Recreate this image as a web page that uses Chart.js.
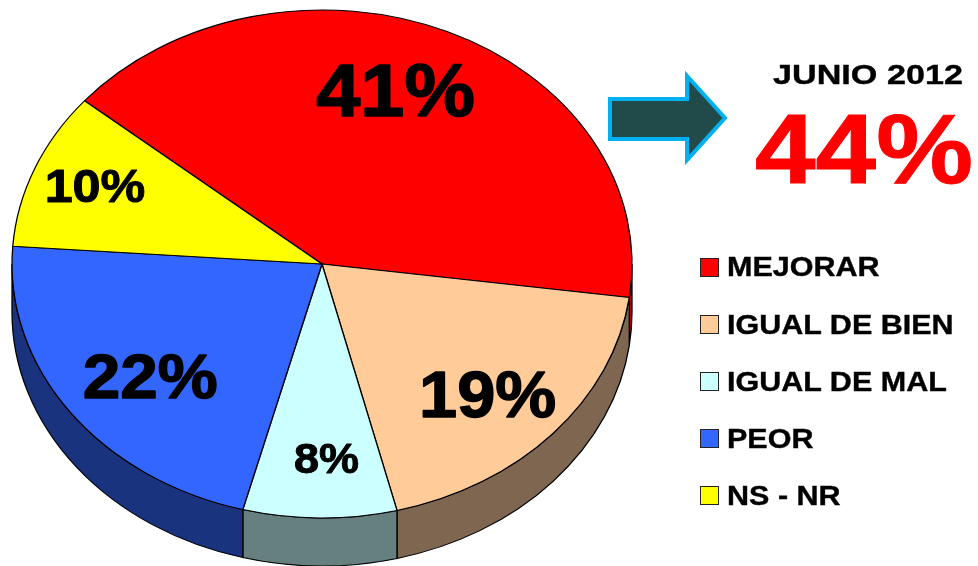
<!DOCTYPE html>
<html lang="es">
<head>
    <meta charset="UTF-8">
    <title>Junio 2012</title>
    <script src="https://cdn.jsdelivr.net/npm/chart.js"></script>
    <style>
        html, body { margin: 0; padding: 0; background: #fff; }
        body { width: 978px; height: 566px; position: relative; overflow: hidden;
               font-family: "Liberation Sans", Arial, sans-serif; font-weight: bold; color: #000; }
        #pie, #arrow { position: absolute; left: 0; top: 0; }
        .txt { position: absolute; line-height: 1; white-space: nowrap; transform-origin: 0 0; }
        #month { left: 773px; top: 61px; font-size: 28px; transform: scaleX(1.22); -webkit-text-stroke: 0.4px #000; }
        #total { left: 755px; top: 99px; font-size: 99px; color: #ff0000; transform: scaleX(1.1); -webkit-text-stroke: 1px #ff0000; }
        .key { position: absolute; left: 700px; width: 17px; height: 17px; border: 1px solid #222; }
        .keytxt { position: absolute; left: 727px; font-size: 28px; line-height: 1; white-space: nowrap;
                  transform: scaleX(1.09); transform-origin: 0 0; -webkit-text-stroke: 0.4px #000; }
    </style>
</head>
<body>
    <canvas id="pie" width="978" height="566"></canvas>
    <svg id="arrow" width="978" height="566">
        <polygon points="610,99 687,99 687,76 725,118 687,160 687,139 610,139"
                 fill="#214a4a" stroke="#00b0f0" stroke-width="4"/>
    </svg>
    <div id="month" class="txt"></div>
    <div id="total" class="txt"></div>
    <div id="legend"></div>

    <script>
        // datos
        const categories = ['MEJORAR', 'IGUAL DE BIEN', 'IGUAL DE MAL', 'PEOR', 'NS - NR'];
        const values = [41, 19, 8, 22, 10];
        const headerLabel = 'JUNIO 2012';
        const headerValue = 44;

        // estilos
        const topColors = ['#ff0000', '#ffcc99', '#ccffff', '#3366ff', '#ffff00'];
        const sideColors = ['#b00000', '#7f6650', '#668080', '#1a337f', '#808000'];
        const labelSizes = [74, 64, 42, 63, 47];
        const labelReach = [0.725, 0.74, 0.764, 0.706, 0.795];
        const labelTurn = [-4.7, 2, -1.5, -2.7, 0.9];   // grados

        const DEPTH = 48;
        const SQUASH = 254 / 310;

        // pastel inclinado con borde 3D
        const tilt3d = {
            id: 'tilt3d',
            beforeDatasetsDraw(chart) {
                const ctx = chart.ctx;
                const arcs = chart.getDatasetMeta(0).data;
                const cx = arcs[0].x, cy = arcs[0].y;
                ctx.save();
                ctx.translate(cx, cy);
                ctx.scale(1, SQUASH);
                ctx.translate(-cx, -cy);
                const d = DEPTH / SQUASH;
                arcs.forEach((arc, i) => {
                    const { startAngle, endAngle, outerRadius: r } = arc.getProps(['startAngle', 'endAngle', 'outerRadius']);
                    for (let k = -1; k <= 1; k++) {
                        const lo = Math.max(startAngle, 2 * Math.PI * k);
                        const hi = Math.min(endAngle, 2 * Math.PI * k + Math.PI);
                        if (hi <= lo) continue;
                        ctx.beginPath();
                        ctx.arc(cx, cy, r, lo, hi);
                        ctx.arc(cx, cy + d, r, hi, lo, true);
                        ctx.closePath();
                        ctx.fillStyle = sideColors[i];
                        ctx.fill();
                        ctx.lineWidth = 1.3;
                        ctx.strokeStyle = '#000';
                        ctx.stroke();
                    }
                });
            },
            afterDatasetsDraw(chart) {
                const ctx = chart.ctx;
                ctx.restore();
                const arcs = chart.getDatasetMeta(0).data;
                arcs.forEach((arc, i) => {
                    const { x, y, startAngle, endAngle, outerRadius: r } =
                        arc.getProps(['x', 'y', 'startAngle', 'endAngle', 'outerRadius']);
                    const mid = (startAngle + endAngle) / 2 + labelTurn[i] * Math.PI / 180;
                    const px = x + Math.cos(mid) * r * labelReach[i];
                    const py = y + Math.sin(mid) * r * labelReach[i] * SQUASH;
                    const size = labelSizes[i];
                    ctx.save();
                    ctx.font = `bold ${size}px "Liberation Sans", Arial, sans-serif`;
                    ctx.fillStyle = '#000';
                    ctx.strokeStyle = '#000';
                    ctx.lineWidth = size / 45;
                    ctx.lineJoin = 'round';
                    ctx.textAlign = 'center';
                    ctx.textBaseline = 'alphabetic';
                    ctx.translate(px, py + size * 0.358);
                    ctx.scale(1.07, 1);
                    ctx.fillText(values[i] + '%', 0, 0);
                    ctx.strokeText(values[i] + '%', 0, 0);
                    ctx.restore();
                });
            }
        };

        new Chart(document.getElementById('pie'), {
            type: 'pie',
            data: {
                labels: categories,
                datasets: [{
                    data: values,
                    backgroundColor: topColors,
                    borderColor: '#000',
                    borderWidth: 1.3,
                    clip: false
                }]
            },
            options: {
                responsive: false,
                animation: false,
                events: [],
                radius: 310,
                rotation: -50,
                layout: { padding: { left: 12, right: 346, top: 0, bottom: 38 } },
                plugins: {
                    legend: { display: false },
                    tooltip: { enabled: false }
                }
            },
            plugins: [tilt3d]
        });

        // textos de la derecha
        document.getElementById('month').textContent = headerLabel;
        document.getElementById('total').textContent = headerValue + '%';

        const legend = document.getElementById('legend');
        categories.forEach((name, i) => {
            const rowY = 267 + 57.2 * i;
            const box = document.createElement('div');
            box.className = 'key';
            box.style.top = (rowY - 9.5) + 'px';
            box.style.background = topColors[i];
            legend.appendChild(box);
            const t = document.createElement('div');
            t.className = 'keytxt';
            t.style.top = (rowY - 13.7) + 'px';
            t.textContent = name;
            legend.appendChild(t);
        });
    </script>
</body>
</html>
